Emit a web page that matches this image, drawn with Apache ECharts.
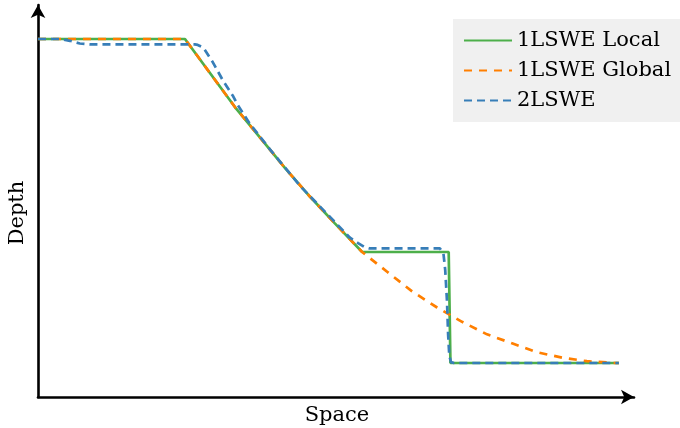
<!DOCTYPE html>
<html>
<head>
<meta charset="utf-8">
<script src="https://cdn.jsdelivr.net/npm/echarts@6/dist/echarts.min.js"></script>
<style>
  html, body { margin: 0; padding: 0; background: #ffffff; }
  #chart { width: 680px; height: 428px; }
</style>
</head>
<body>
<div id="chart"></div>
<script>
// Depth profiles along the channel: [space, depth]
const local1L = [
  [0, 2.0], [2.53, 2.0], [2.96, 1.81], [3.39, 1.62], [3.82, 1.45], [4.25, 1.28],
  [4.68, 1.12], [5.11, 0.97], [5.58, 0.81], [7.07, 0.81], [7.10, 0.19], [10.0, 0.19]
];
const global1L = [
  [0, 2.0], [2.53, 2.0], [2.96, 1.81], [3.39, 1.62], [3.82, 1.45], [4.25, 1.28],
  [4.68, 1.12], [5.11, 0.97], [5.58, 0.81], [6.01, 0.70], [6.44, 0.59], [6.87, 0.50],
  [7.30, 0.42], [7.73, 0.35], [8.16, 0.30], [8.59, 0.25], [9.02, 0.22], [9.45, 0.20],
  [9.93, 0.19], [10.0, 0.19]
];
const twoLayer = [
  [0, 2.0], [0.38, 2.0], [0.55, 1.99], [0.72, 1.975], [0.9, 1.97], [2.70, 1.97],
  [2.75, 1.967], [2.81, 1.958], [2.87, 1.94], [2.94, 1.905], [3.01, 1.87], [3.18, 1.77],
  [3.36, 1.68], [3.44, 1.63], [3.65, 1.525], [3.99, 1.385], [4.51, 1.18], [5.03, 1.005],
  [5.37, 0.89], [5.51, 0.86], [5.61, 0.84], [5.71, 0.83], [6.92, 0.83], [6.98, 0.80],
  [7.01, 0.71], [7.04, 0.54], [7.06, 0.35], [7.08, 0.23], [7.11, 0.195], [7.16, 0.19],
  [10.0, 0.19]
];
const seriesNames = ['1LSWE Local', '1LSWE Global', '2LSWE'];
const axisNames = ['Space', 'Depth'];
const X_MAX = 10.26;
const Y_MAX = 2.19;

const serif = 'DejaVu Serif';
const chart = echarts.init(document.getElementById('chart'), null, { renderer: 'canvas' });

const axisCommon = {
  type: 'value',
  axisLine: {
    show: true,
    symbol: ['none', 'arrow'],
    symbolSize: [11, 13],
    lineStyle: { color: '#000000', width: 2.6 }
  },
  axisTick: { show: false },
  axisLabel: { show: false },
  splitLine: { show: false },
  nameLocation: 'middle',
  nameTextStyle: { fontFamily: serif, fontSize: 21, color: '#000000' }
};

function lineSeries(name, data, color, dash) {
  return {
    name: name,
    type: 'line',
    data: data,
    symbol: 'none',
    showSymbol: false,
    animation: false,
    lineStyle: { color: color, width: 2.7, type: dash },
    itemStyle: { color: color }
  };
}

chart.setOption({
  animation: false,
  backgroundColor: '#ffffff',
  grid: { left: 38, right: 46, top: 5, bottom: 31, containLabel: false, outerBoundsMode: 'none' },
  xAxis: Object.assign({}, axisCommon, {
    min: 0, max: X_MAX,
    name: axisNames[0],
    nameGap: 8,
    nameTextStyle: Object.assign({}, axisCommon.nameTextStyle, { padding: [0, 0, 0, 2] })
  }),
  yAxis: Object.assign({}, axisCommon, {
    min: 0, max: Y_MAX,
    name: axisNames[1],
    nameGap: 10,
    nameTextStyle: Object.assign({}, axisCommon.nameTextStyle, { padding: [0, 24, 0, 0] })
  }),
  legend: {
    orient: 'vertical',
    left: 453,
    top: 19,
    backgroundColor: '#f0f0f0',
    borderRadius: 0,
    padding: [11, 30, 11, 10],
    itemGap: 9,
    itemWidth: 48,
    itemHeight: 20,
    itemStyle: { opacity: 0 },
    textStyle: { fontFamily: serif, fontSize: 21, color: '#000000' },
    data: seriesNames
  },
  series: [
    lineSeries(seriesNames[0], local1L, '#4daf4a', 'solid'),
    lineSeries(seriesNames[1], global1L, '#ff7f00', [8, 7]),
    lineSeries(seriesNames[2], twoLayer, '#377eb8', [8, 5])
  ]
});
</script>
</body>
</html>
